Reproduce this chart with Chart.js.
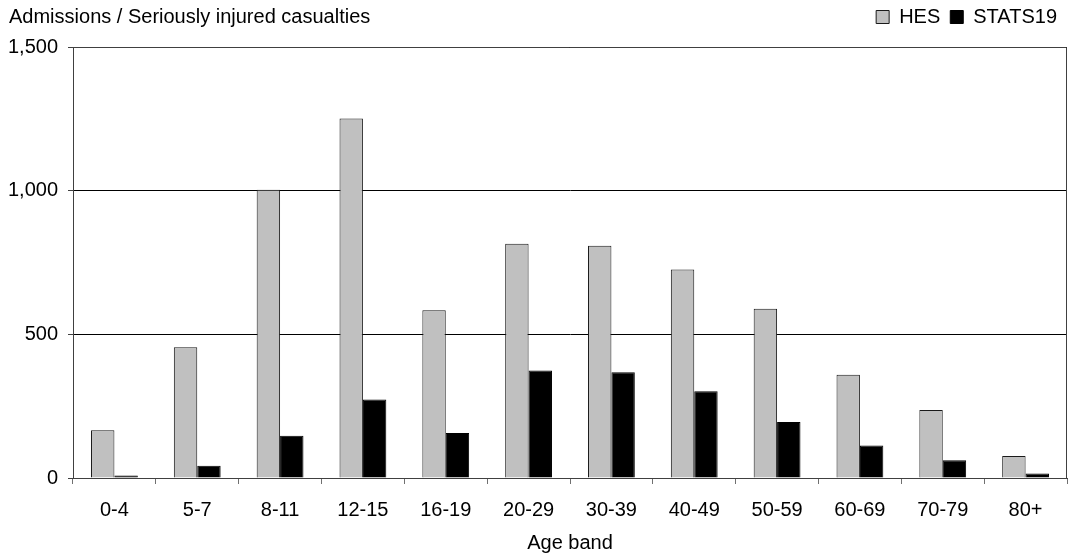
<!DOCTYPE html>
<html>
<head>
<meta charset="utf-8">
<script src="https://cdn.jsdelivr.net/npm/chart.js@4.4.1/dist/chart.umd.min.js"></script>
<style>
  html, body { margin: 0; padding: 0; background: #fff; }
  #wrap { position: relative; width: 1090px; height: 559px; }
  #titulo {
    position: absolute; left: 9px; top: 4px;
    font: 20px "Liberation Sans", Arial, sans-serif; color: #000;
    line-height: 24px; white-space: nowrap;
  }
</style>
</head>
<body>
<div id="wrap">
  <canvas id="grafico"></canvas>
  <div id="titulo">Admissions / Seriously injured casualties</div>
</div>
<script>
// Datos
const bandas = ['0-4', '5-7', '8-11', '12-15', '16-19', '20-29', '30-39', '40-49', '50-59', '60-69', '70-79', '80+'];
const hes = [166, 455, 1003, 1251, 584, 815, 808, 726, 589, 359, 237, 77];
const stats19 = [9, 43, 147, 273, 157, 374, 368, 302, 195, 113, 62, 16];
const ticksY = [0, 500, 1000, 1500];

const fuente = { family: '"Liberation Sans", Arial, sans-serif', size: 20 };

// Marco alrededor del area del grafico
const marco = {
    id: 'marco',
    afterDraw(chart) {
        const { ctx, chartArea: a } = chart;
        ctx.save();
        ctx.strokeStyle = '#404040';
        ctx.lineWidth = 1;
        ctx.beginPath();
        ctx.moveTo(a.left, a.top + 0.5);
        ctx.lineTo(a.right - 0.5, a.top + 0.5);
        ctx.lineTo(a.right - 0.5, a.bottom);
        ctx.stroke();
        ctx.restore();
    }
};

// Sube la leyenda a la altura del titulo
const subirLeyenda = {
    id: 'subirLeyenda',
    afterLayout(chart) {
        chart.legend.top -= 10;
        chart.legend.bottom -= 10;
    }
};

const ctx = document.getElementById('grafico').getContext('2d');
const grafico = new Chart(ctx, {
    type: 'bar',
    data: {
        labels: bandas,
        datasets: [{
            label: 'HES',
            data: hes,
            backgroundColor: '#c0c0c0',
            borderColor: '#1a1a1a',
            borderWidth: 1,
            borderSkipped: 'bottom'
        },
        {
            label: 'STATS19',
            data: stats19,
            backgroundColor: '#000000',
            borderColor: '#000000',
            borderWidth: 1,
            borderSkipped: 'bottom'
        }]
    },
    options: {
        responsive: true,
        maintainAspectRatio: false,
        animation: false,
        devicePixelRatio: 1,
        layout: { padding: { top: 0, right: 23, left: 0, bottom: 0 } },
        datasets: { bar: { categoryPercentage: 0.565, barPercentage: 1 } },
        plugins: {
            legend: {
                position: 'top',
                align: 'end',
                labels: {
                    font: fuente,
                    color: '#000',
                    boxWidth: 13,
                    boxHeight: 13,
                    padding: 10
                }
            },
            tooltip: { enabled: false }
        },
        scales: {
            x: {
                grid: {
                    display: true,
                    offset: true,
                    drawOnChartArea: false,
                    tickLength: 6,
                    tickColor: '#707070'
                },
                border: { display: true, color: '#404040' },
                ticks: { font: fuente, color: '#000', padding: 14, maxRotation: 0 },
                title: { display: true, text: 'Age band', font: fuente, color: '#000', padding: { top: 4, bottom: 4 } },
                afterFit(scale) { scale.height = 81; }
            },
            y: {
                min: 0,
                max: 1500,
                afterBuildTicks(scale) { scale.ticks = ticksY.map(v => ({ value: v })); },
                grid: { color: '#000', lineWidth: 1, tickLength: 5, tickColor: '#404040' },
                border: { display: true, color: '#404040' },
                ticks: { font: fuente, color: '#000', padding: 10 },
                afterFit(scale) {
                    scale.width = 73;
                    scale.paddingTop = 47; // baja el area del grafico hasta y=47
                }
            }
        }
    },
    plugins: [marco, subirLeyenda]
});
</script>
</body>
</html>
